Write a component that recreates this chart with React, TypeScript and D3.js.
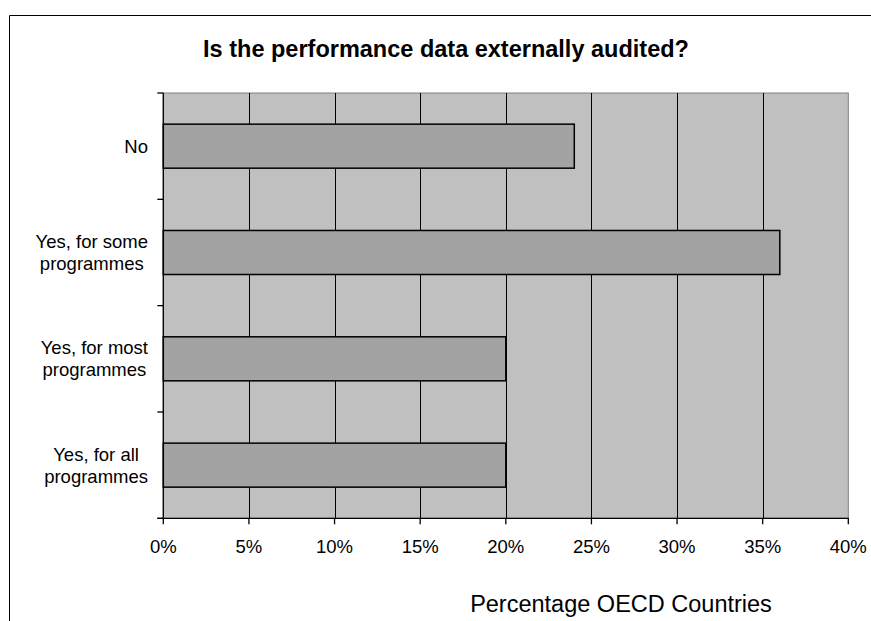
import React from "react";
import * as d3 from "d3";

const categories: string[][] = [
  ["No"],
  ["Yes, for some", "programmes"],
  ["Yes, for most", "programmes"],
  ["Yes, for all", "programmes"],
];
const values: number[] = [0.24, 0.36, 0.2, 0.2];
const xTicks: number[] = [0, 0.05, 0.1, 0.15, 0.2, 0.25, 0.3, 0.35, 0.4];
const title = "Is the performance data externally audited?";
const xTitle = "Percentage OECD Countries";

const W = 871;
const H = 621;
const FONT = "'Liberation Sans', Arial, sans-serif";
const plot = { left: 163.3, right: 848.3, top: 93, bottom: 518.3 };

function textWidth(text: string, size: number): number {
  const c = document.createElement("canvas").getContext("2d");
  if (!c) return text.length * size * 0.5;
  c.font = `${size}px ${FONT}`;
  return c.measureText(text).width;
}

export default function App() {
  const x = d3.scaleLinear().domain([0, 0.4]).range([plot.left, plot.right]);
  const keys = categories.map((_, i) => String(i));
  const y = d3
    .scaleBand<string>()
    .domain(keys)
    .range([plot.top, plot.bottom])
    .paddingInner(0.586)
    .paddingOuter(0.293);
  const step = (plot.bottom - plot.top) / categories.length;
  const fmt = d3.format(".0%");
  const labelSize = 18.5;
  const lineH = 22;

  return (
    <svg
      width={W}
      height={H}
      style={{ position: "absolute", left: 0, top: 0, display: "block" }}
      fontFamily={FONT}
    >
      <rect x={0} y={0} width={W} height={H} fill="#fff" />
      {/* outer chart frame */}
      <line x1={9.5} y1={15.5} x2={W} y2={15.5} stroke="#000" strokeWidth={1} />
      <line x1={9.5} y1={15.5} x2={9.5} y2={H} stroke="#000" strokeWidth={1} />

      <text
        x={446}
        y={57}
        textAnchor="middle"
        fontSize={23.5}
        fontWeight="bold"
        fill="#000"
      >
        {title}
      </text>

      {/* plot area */}
      <rect
        x={plot.left}
        y={plot.top}
        width={plot.right - plot.left}
        height={plot.bottom - plot.top}
        fill="#c0c0c0"
        stroke="#808080"
        strokeWidth={1}
      />
      {xTicks.slice(1, -1).map((t) => (
        <line
          key={`g${t}`}
          x1={Math.round(x(t)) + 0.5}
          x2={Math.round(x(t)) + 0.5}
          y1={plot.top}
          y2={plot.bottom}
          stroke="#000"
          strokeWidth={1}
        />
      ))}

      {values.map((v, i) => (
        <rect
          key={`b${i}`}
          x={x(0)}
          y={y(keys[i])}
          width={x(v) - x(0)}
          height={y.bandwidth()}
          fill="#a3a3a3"
          stroke="#000"
          strokeWidth={1.5}
        />
      ))}

      {/* axes */}
      <line x1={plot.left} x2={plot.left} y1={plot.top} y2={plot.bottom + 0.5} stroke="#000" strokeWidth={1.3} />
      <line x1={plot.left - 6} x2={plot.right + 0.5} y1={plot.bottom} y2={plot.bottom} stroke="#000" strokeWidth={1.3} />
      {d3.range(categories.length + 1).map((i) => (
        <line
          key={`yt${i}`}
          x1={plot.left - 6}
          x2={plot.left}
          y1={plot.top + i * step}
          y2={plot.top + i * step}
          stroke="#000"
          strokeWidth={1.3}
        />
      ))}
      {xTicks.map((t) => (
        <g key={`xt${t}`}>
          <line
            x1={x(t)}
            x2={x(t)}
            y1={plot.bottom}
            y2={plot.bottom + 6}
            stroke="#000"
            strokeWidth={1.3}
          />
          <text x={x(t)} y={553} textAnchor="middle" fontSize={labelSize} fill="#000">
            {fmt(t)}
          </text>
        </g>
      ))}

      {categories.map((lines, i) => {
        const maxW = Math.max(...lines.map((l) => textWidth(l, labelSize)));
        const cx = 148 - maxW / 2;
        const cy = (y(keys[i]) as number) + y.bandwidth() / 2;
        const first = cy - ((lines.length - 1) * lineH) / 2 + labelSize * 0.35;
        return (
          <text key={`c${i}`} textAnchor="middle" fontSize={labelSize} fill="#000">
            {lines.map((l, j) => (
              <tspan key={j} x={cx} y={first + j * lineH}>
                {l}
              </tspan>
            ))}
          </text>
        );
      })}

      <text x={621} y={612} textAnchor="middle" fontSize={23.5} fill="#000">
        {xTitle}
      </text>
    </svg>
  );
}
